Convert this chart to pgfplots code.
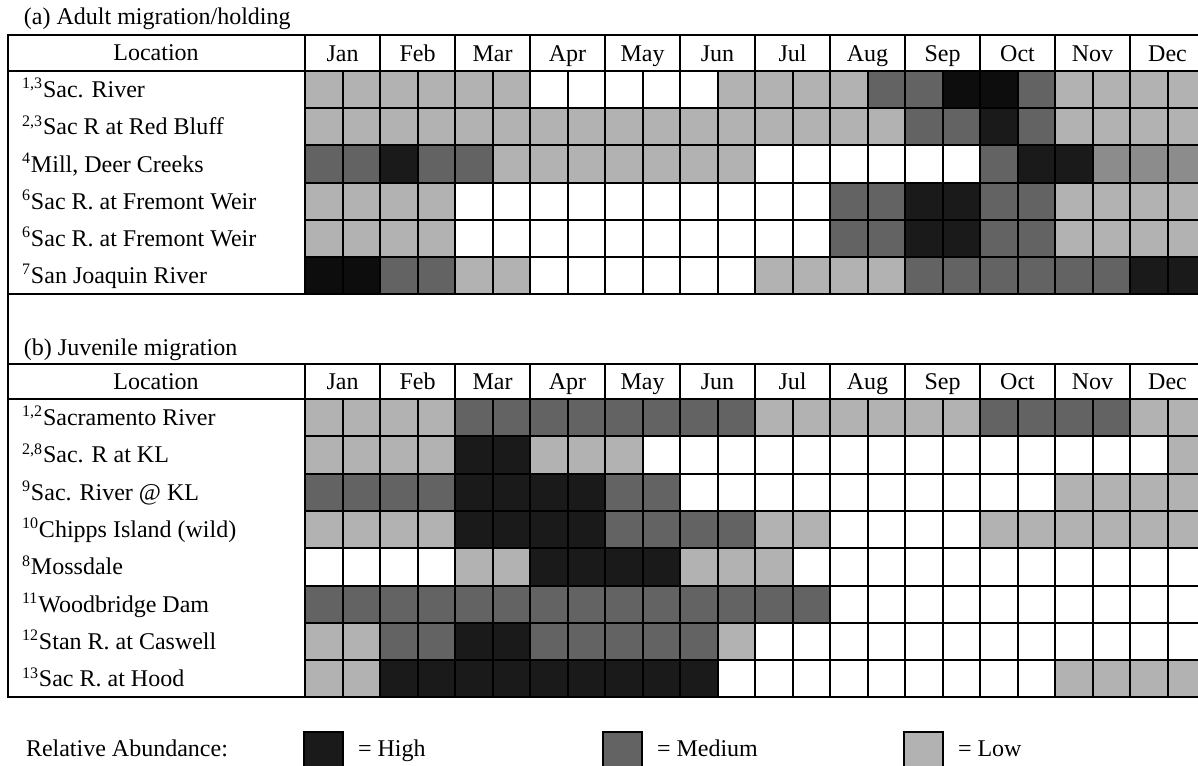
\documentclass[12pt,border=0pt]{standalone}
\usepackage{pgfplots}
\pgfplotsset{compat=1.18}
\usepackage{fontspec}
\setmainfont{Liberation Serif}
\definecolor{cH}{RGB}{26,26,26}
\definecolor{cM}{RGB}{99,99,99}
\definecolor{cL}{RGB}{178,178,178}
\pgfplotsset{
  heat/.style={
    scale only axis, width=450pt, anchor=north west,
    xmin=-0.5, xmax=23.5, y dir=reverse,
    xtick={0.5,2.5,...,22.5},
    xticklabels={Jan,Feb,Mar,Apr,May,Jun,Jul,Aug,Sep,Oct,Nov,Dec},
    xticklabel pos=upper,
    xticklabel style={anchor=base, yshift=5pt, inner sep=0pt},
    yticklabels={},
    minor xtick={-0.5,0.5,...,23.5},
    xminorgrids=true, xmajorgrids=false, ymajorgrids=true, yminorgrids=false,
    grid style={black, line width=1pt},
    major tick length=0pt, minor tick length=0pt,
    axis line style={black, line width=1pt},
    axis on top,
    colormap={abund}{rgb255=(255,255,255) rgb255=(178,178,178) rgb255=(99,99,99) rgb255=(26,26,26) rgb255=(13,13,13) rgb255=(140,140,140)},
    colormap access=direct,
  }
}
\begin{document}
\begin{tikzpicture}
\useasboundingbox (0,0) rectangle (599pt,-382.5pt);
\clip (0,0) rectangle (599pt,-382.5pt);
% ---------- panel (a) ----------
\begin{axis}[heat, at={(152.5pt,-35.5pt)}, height=111.6pt,
  ymin=-0.5, ymax=5.5, ytick={-0.5,0.5,...,5.5}]
\addplot[matrix plot*, mesh/cols=24, point meta=explicit] coordinates {
(0,0)[1] (1,0)[1] (2,0)[1] (3,0)[1] (4,0)[1] (5,0)[1] (6,0)[0] (7,0)[0] (8,0)[0] (9,0)[0] (10,0)[0] (11,0)[1] (12,0)[1] (13,0)[1] (14,0)[1] (15,0)[2] (16,0)[2] (17,0)[4] (18,0)[4] (19,0)[2] (20,0)[1] (21,0)[1] (22,0)[1] (23,0)[1]
(0,1)[1] (1,1)[1] (2,1)[1] (3,1)[1] (4,1)[1] (5,1)[1] (6,1)[1] (7,1)[1] (8,1)[1] (9,1)[1] (10,1)[1] (11,1)[1] (12,1)[1] (13,1)[1] (14,1)[1] (15,1)[1] (16,1)[2] (17,1)[2] (18,1)[3] (19,1)[2] (20,1)[1] (21,1)[1] (22,1)[1] (23,1)[1]
(0,2)[2] (1,2)[2] (2,2)[3] (3,2)[2] (4,2)[2] (5,2)[1] (6,2)[1] (7,2)[1] (8,2)[1] (9,2)[1] (10,2)[1] (11,2)[1] (12,2)[0] (13,2)[0] (14,2)[0] (15,2)[0] (16,2)[0] (17,2)[0] (18,2)[2] (19,2)[3] (20,2)[3] (21,2)[5] (22,2)[5] (23,2)[5]
(0,3)[1] (1,3)[1] (2,3)[1] (3,3)[1] (4,3)[0] (5,3)[0] (6,3)[0] (7,3)[0] (8,3)[0] (9,3)[0] (10,3)[0] (11,3)[0] (12,3)[0] (13,3)[0] (14,3)[2] (15,3)[2] (16,3)[3] (17,3)[3] (18,3)[2] (19,3)[2] (20,3)[1] (21,3)[1] (22,3)[1] (23,3)[1]
(0,4)[1] (1,4)[1] (2,4)[1] (3,4)[1] (4,4)[0] (5,4)[0] (6,4)[0] (7,4)[0] (8,4)[0] (9,4)[0] (10,4)[0] (11,4)[0] (12,4)[0] (13,4)[0] (14,4)[2] (15,4)[2] (16,4)[3] (17,4)[3] (18,4)[2] (19,4)[2] (20,4)[1] (21,4)[1] (22,4)[1] (23,4)[1]
(0,5)[4] (1,5)[4] (2,5)[2] (3,5)[2] (4,5)[1] (5,5)[1] (6,5)[0] (7,5)[0] (8,5)[0] (9,5)[0] (10,5)[0] (11,5)[0] (12,5)[1] (13,5)[1] (14,5)[1] (15,5)[1] (16,5)[2] (17,5)[2] (18,5)[2] (19,5)[2] (20,5)[2] (21,5)[2] (22,5)[3] (23,5)[3]
};
\end{axis}
% ---------- panel (b) ----------
\begin{axis}[heat, at={(152.5pt,-199.5pt)}, height=149.2pt,
  ymin=-0.5, ymax=7.5, ytick={-0.5,0.5,...,7.5}]
\addplot[matrix plot*, mesh/cols=24, point meta=explicit] coordinates {
(0,0)[1] (1,0)[1] (2,0)[1] (3,0)[1] (4,0)[2] (5,0)[2] (6,0)[2] (7,0)[2] (8,0)[2] (9,0)[2] (10,0)[2] (11,0)[2] (12,0)[1] (13,0)[1] (14,0)[1] (15,0)[1] (16,0)[1] (17,0)[1] (18,0)[2] (19,0)[2] (20,0)[2] (21,0)[2] (22,0)[1] (23,0)[1]
(0,1)[1] (1,1)[1] (2,1)[1] (3,1)[1] (4,1)[3] (5,1)[3] (6,1)[1] (7,1)[1] (8,1)[1] (9,1)[0] (10,1)[0] (11,1)[0] (12,1)[0] (13,1)[0] (14,1)[0] (15,1)[0] (16,1)[0] (17,1)[0] (18,1)[0] (19,1)[0] (20,1)[0] (21,1)[0] (22,1)[0] (23,1)[1]
(0,2)[2] (1,2)[2] (2,2)[2] (3,2)[2] (4,2)[3] (5,2)[3] (6,2)[3] (7,2)[3] (8,2)[2] (9,2)[2] (10,2)[0] (11,2)[0] (12,2)[0] (13,2)[0] (14,2)[0] (15,2)[0] (16,2)[0] (17,2)[0] (18,2)[0] (19,2)[0] (20,2)[1] (21,2)[1] (22,2)[1] (23,2)[1]
(0,3)[1] (1,3)[1] (2,3)[1] (3,3)[1] (4,3)[3] (5,3)[3] (6,3)[3] (7,3)[3] (8,3)[2] (9,3)[2] (10,3)[2] (11,3)[2] (12,3)[1] (13,3)[1] (14,3)[0] (15,3)[0] (16,3)[0] (17,3)[0] (18,3)[1] (19,3)[1] (20,3)[1] (21,3)[1] (22,3)[1] (23,3)[1]
(0,4)[0] (1,4)[0] (2,4)[0] (3,4)[0] (4,4)[1] (5,4)[1] (6,4)[3] (7,4)[3] (8,4)[3] (9,4)[3] (10,4)[1] (11,4)[1] (12,4)[1] (13,4)[0] (14,4)[0] (15,4)[0] (16,4)[0] (17,4)[0] (18,4)[0] (19,4)[0] (20,4)[0] (21,4)[0] (22,4)[0] (23,4)[0]
(0,5)[2] (1,5)[2] (2,5)[2] (3,5)[2] (4,5)[2] (5,5)[2] (6,5)[2] (7,5)[2] (8,5)[2] (9,5)[2] (10,5)[2] (11,5)[2] (12,5)[2] (13,5)[2] (14,5)[0] (15,5)[0] (16,5)[0] (17,5)[0] (18,5)[0] (19,5)[0] (20,5)[0] (21,5)[0] (22,5)[0] (23,5)[0]
(0,6)[1] (1,6)[1] (2,6)[2] (3,6)[2] (4,6)[3] (5,6)[3] (6,6)[2] (7,6)[2] (8,6)[2] (9,6)[2] (10,6)[2] (11,6)[1] (12,6)[0] (13,6)[0] (14,6)[0] (15,6)[0] (16,6)[0] (17,6)[0] (18,6)[0] (19,6)[0] (20,6)[0] (21,6)[0] (22,6)[0] (23,6)[0]
(0,7)[1] (1,7)[1] (2,7)[3] (3,7)[3] (4,7)[3] (5,7)[3] (6,7)[3] (7,7)[3] (8,7)[3] (9,7)[3] (10,7)[3] (11,7)[0] (12,7)[0] (13,7)[0] (14,7)[0] (15,7)[0] (16,7)[0] (17,7)[0] (18,7)[0] (19,7)[0] (20,7)[1] (21,7)[1] (22,7)[1] (23,7)[1]
};
\end{axis}
% ---------- frames, headers, labels (1 unit = 1 px of reference) ----------
\begin{scope}[x=0.5pt, y=-0.5pt, line width=1pt]
  % panel a
  \draw (7.5,35) rectangle (1210,294.2);
  \draw (7.5,71) -- (305,71);
  \draw (305,35) -- (305,71);
  \foreach \k in {1,...,11} \draw ({305+75*\k},35) -- ({305+75*\k},71);
  % gap left border
  \draw (7.5,294.2) -- (7.5,364);
  % panel b
  \draw (7.5,364) rectangle (1210,697.4);
  \draw (7.5,399) -- (305,399);
  \draw (305,364) -- (305,399);
  \foreach \k in {1,...,11} \draw ({305+75*\k},364) -- ({305+75*\k},399);
  % titles
  \node[anchor=base west, inner sep=0pt] at (23,25) {(a) Adult migration/holding};
  \node[anchor=base west, inner sep=0pt] at (23,355) {(b) Juvenile migration};
  \node[anchor=base, inner sep=0pt] at (156,61) {Location};
  \node[anchor=base, inner sep=0pt] at (156,389.5) {Location};
  % row labels panel a
  \foreach \t [count=\i from 0] in {\textsuperscript{1,3}Sac. River,
      \textsuperscript{2,3}Sac R at Red Bluff,
      \textsuperscript{4}Mill{,} Deer Creeks,
      \textsuperscript{6}Sac R. at Fremont Weir,
      \textsuperscript{6}Sac R. at Fremont Weir,
      \textsuperscript{7}San Joaquin River}
    \node[anchor=base west, inner sep=0pt] at (21,{71+37.2*(\i+0.5)+8}) {\t};
  % row labels panel b
  \foreach \t [count=\i from 0] in {\textsuperscript{1,2}Sacramento River,
      \textsuperscript{2,8}Sac. R at KL,
      \textsuperscript{9}Sac. River @ KL,
      \textsuperscript{10}Chipps Island (wild),
      \textsuperscript{8}Mossdale,
      \textsuperscript{11}Woodbridge Dam,
      \textsuperscript{12}Stan R. at Caswell,
      \textsuperscript{13}Sac R. at Hood}
    \node[anchor=base west, inner sep=0pt] at (21,{399+37.3*(\i+0.5)+8}) {\t};
  % legend
  \node[anchor=base west, inner sep=0pt] at (25,756) {Relative Abundance:};
  \draw[fill=cH] (304,732) rectangle (343,780);
  \node[anchor=base west, inner sep=0pt] at (357,756) {= High};
  \draw[fill=cM] (603,732) rectangle (642,780);
  \node[anchor=base west, inner sep=0pt] at (656,756) {= Medium};
  \draw[fill=cL] (904,732) rectangle (943,780);
  \node[anchor=base west, inner sep=0pt] at (957,756) {= Low};
\end{scope}
\end{tikzpicture}
\end{document}
